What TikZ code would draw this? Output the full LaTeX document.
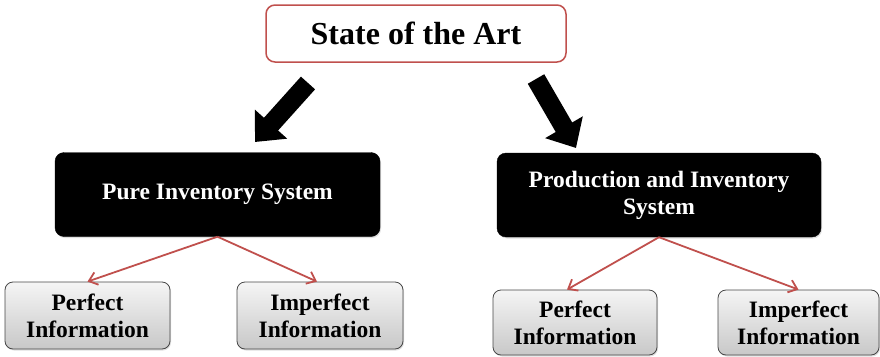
\documentclass[tikz,border=0pt]{standalone}
\usepackage{fontspec}
\setmainfont{Liberation Serif}
\usetikzlibrary{arrows.meta,shadows}
\begin{document}
\begin{tikzpicture}[x=1pt,y=-1pt,
  titlebox/.style={draw={rgb,255:red,192;green,80;blue,77}, line width=1.5pt, rounded corners=9pt, fill=white, minimum width=300pt, minimum height=57pt, font=\fontsize{32}{34}\selectfont\bfseries},
  blackbox/.style={fill=black, draw=black, rounded corners=9pt, text=white, align=center, font=\fontsize{23.5}{27}\selectfont\bfseries, drop shadow={opacity=0.25, shadow xshift=1pt, shadow yshift=-1.5pt}},
  graybox/.style={draw={rgb,255:red,70;green,70;blue,70}, line width=0.8pt, rounded corners=8pt, top color={rgb,255:red,245;green,245;blue,245}, bottom color={rgb,255:red,200;green,200;blue,200}, align=center, font=\fontsize{23.5}{27}\selectfont\bfseries, inner sep=1pt, drop shadow={opacity=0.25, shadow xshift=1pt, shadow yshift=-1.5pt}},
  redarrow/.style={draw={rgb,255:red,192;green,80;blue,77}, line width=1.8pt, -{Straight Barb[length=8pt,width=13pt]}},
  fatarrow/.style={line width=19pt, -{Triangle[length=24pt,width=42pt]}}
]
\useasboundingbox (0,0) rectangle (880,356);
\node[titlebox] (title) at (416,33.5) {State of the Art};
\node[blackbox, minimum width=325pt, minimum height=84pt] (pure) at (217.5,194.5) {Pure Inventory System};
\node[blackbox, minimum width=324pt, minimum height=84pt] (prod) at (659,195) {Production and Inventory\\System};
\node[graybox, minimum width=165pt, minimum height=67pt] (p1) at (87.5,315.5) {Perfect\\Information};
\node[graybox, minimum width=166pt, minimum height=67pt] (i1) at (320,315.5) {Imperfect\\Information};
\node[graybox, minimum width=164pt, minimum height=65pt] (p2) at (575,322.5) {Perfect\\Information};
\node[graybox, minimum width=161pt, minimum height=65pt] (i2) at (798.5,322.5) {Imperfect\\Information};
\coordinate (la) at (308,83);
\coordinate (lb) at (255,142);
\coordinate (ra) at (536,79);
\coordinate (rb) at (576,148);
\draw[fatarrow] (la) -- (lb);
\draw[fatarrow] (ra) -- (rb);
\draw[redarrow] (pure.south) -- (p1.north);
\draw[redarrow] (pure.south) -- ([xshift=-3pt]i1.north);
\draw[redarrow] (prod.south) -- ([xshift=-8pt]p2.north);
\draw[redarrow] (prod.south) -- (i2.north);
\end{tikzpicture}
\end{document}
